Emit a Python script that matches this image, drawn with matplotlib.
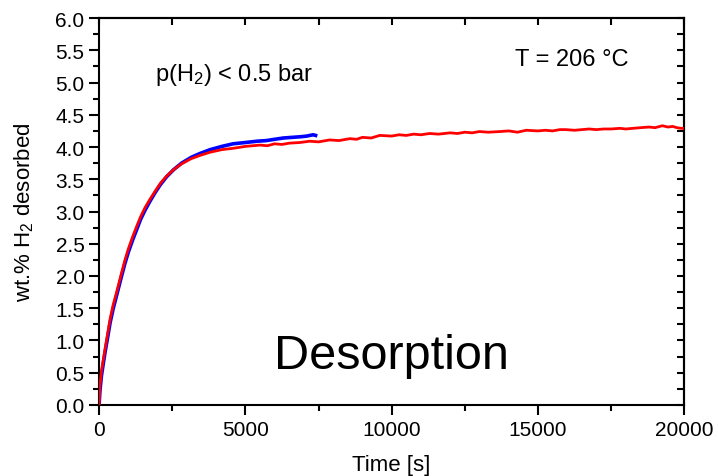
import matplotlib
matplotlib.use("Agg")
import matplotlib.pyplot as plt
from matplotlib.ticker import MultipleLocator

plt.rcParams['font.family'] = ['Liberation Sans', 'DejaVu Sans']
plt.rcParams['mathtext.default'] = 'regular'

# red curve (long run)
red_t = [0, 30, 80, 150, 205, 290, 375, 480, 600, 690, 775, 880, 1000, 1140, 1285,
         1420, 1570, 1740, 1910, 2100, 2310, 2550, 2820, 3150, 3450, 3800, 4200,
         4580, 5000, 5250, 5500, 5750, 6000, 6250, 6500, 6860, 7200, 7500, 7880,
         8200, 8570, 8800, 9000, 9300, 9590, 10000, 10250, 10500, 10750, 11000,
         11300, 11600, 12000, 12250, 12500, 12750, 13000, 13300, 13700, 14000,
         14300, 14600, 15000, 15250, 15500, 15750, 15960, 16250, 16500, 16750,
         17000, 17250, 17500, 17800, 18000, 18240, 18500, 18800, 19000, 19250,
         19450, 19600, 19750, 19890, 20000]
red_y = [0.00, 0.30, 0.52, 0.72, 0.87, 1.10, 1.33, 1.55, 1.75, 1.91, 2.06, 2.24,
         2.42, 2.60, 2.77, 2.92, 3.06, 3.19, 3.31, 3.44, 3.55, 3.65, 3.74, 3.82,
         3.87, 3.92, 3.96, 3.98, 4.01, 4.02, 4.03, 4.02, 4.05, 4.04, 4.06, 4.07,
         4.09, 4.08, 4.11, 4.10, 4.13, 4.12, 4.15, 4.14, 4.18, 4.17, 4.19, 4.18,
         4.20, 4.19, 4.21, 4.20, 4.22, 4.21, 4.23, 4.22, 4.24, 4.23, 4.24, 4.25,
         4.23, 4.26, 4.25, 4.26, 4.25, 4.27, 4.27, 4.26, 4.27, 4.28, 4.27, 4.28,
         4.28, 4.29, 4.28, 4.29, 4.30, 4.31, 4.30, 4.33, 4.31, 4.32, 4.30, 4.29,
         4.29]

# blue curve (short run)
blue_t = [0, 30, 80, 150, 205, 290, 375, 480, 600, 690, 775, 880, 1000, 1140,
          1285, 1420, 1570, 1740, 1910, 2100, 2310, 2550, 2820, 3150, 3450, 3800,
          4200, 4580, 5000, 5400, 5720, 6000, 6300, 6600, 6900, 7100, 7315, 7400]
blue_y = [0.00, 0.22, 0.45, 0.66, 0.82, 1.04, 1.27, 1.49, 1.70, 1.86, 2.01, 2.19,
          2.37, 2.55, 2.72, 2.88, 3.02, 3.16, 3.29, 3.42, 3.54, 3.65, 3.75, 3.84,
          3.90, 3.96, 4.01, 4.05, 4.07, 4.09, 4.10, 4.12, 4.14, 4.15, 4.16, 4.17,
          4.19, 4.18]

fig = plt.figure(figsize=(7.18, 4.77), dpi=100)
ax = fig.add_axes([0.138, 0.149, 0.815, 0.811])

ax.plot(blue_t, blue_y, color='#0000ff', lw=2.6, zorder=2)
ax.plot(red_t, red_y, color='#ff0000', lw=2.0, zorder=3)

ax.set_xlim(0, 20000)
ax.set_ylim(0, 6)
ax.xaxis.set_major_locator(MultipleLocator(5000))
ax.xaxis.set_minor_locator(MultipleLocator(2500))
ax.yaxis.set_major_locator(MultipleLocator(0.5))
ax.yaxis.set_minor_locator(MultipleLocator(0.25))
ax.yaxis.set_major_formatter(plt.FormatStrFormatter('%.1f'))

for s in ax.spines.values():
    s.set_linewidth(1.5)
ax.tick_params(which='major', direction='out', length=7, width=1.5, labelsize=15)
ax.tick_params(which='minor', direction='out', length=4, width=1.5)

top = ax.secondary_xaxis('top')
top.xaxis.set_major_locator(MultipleLocator(2500))
top.tick_params(direction='in', length=5, width=1.5, labeltop=False)
right = ax.secondary_yaxis('right')
right.yaxis.set_major_locator(MultipleLocator(0.25))
right.tick_params(direction='in', length=5, width=1.5, labelright=False)
for sa in (top, right):
    for s in sa.spines.values():
        s.set_linewidth(1.5)

ax.set_xlabel('Time [s]', fontsize=16, labelpad=11)
ax.set_ylabel('wt.% H$_2$ desorbed', fontsize=16, labelpad=14)

ax.text(1900, 5.13, 'p(H$_2$) < 0.5 bar', fontsize=17, va='center', ha='left')
ax.text(14200, 5.36, 'T = 206 °C', fontsize=17, va='center', ha='left')
ax.text(10000, 0.76, 'Desorption', fontsize=35, va='center', ha='center')

fig.savefig('out.png', dpi=100)
